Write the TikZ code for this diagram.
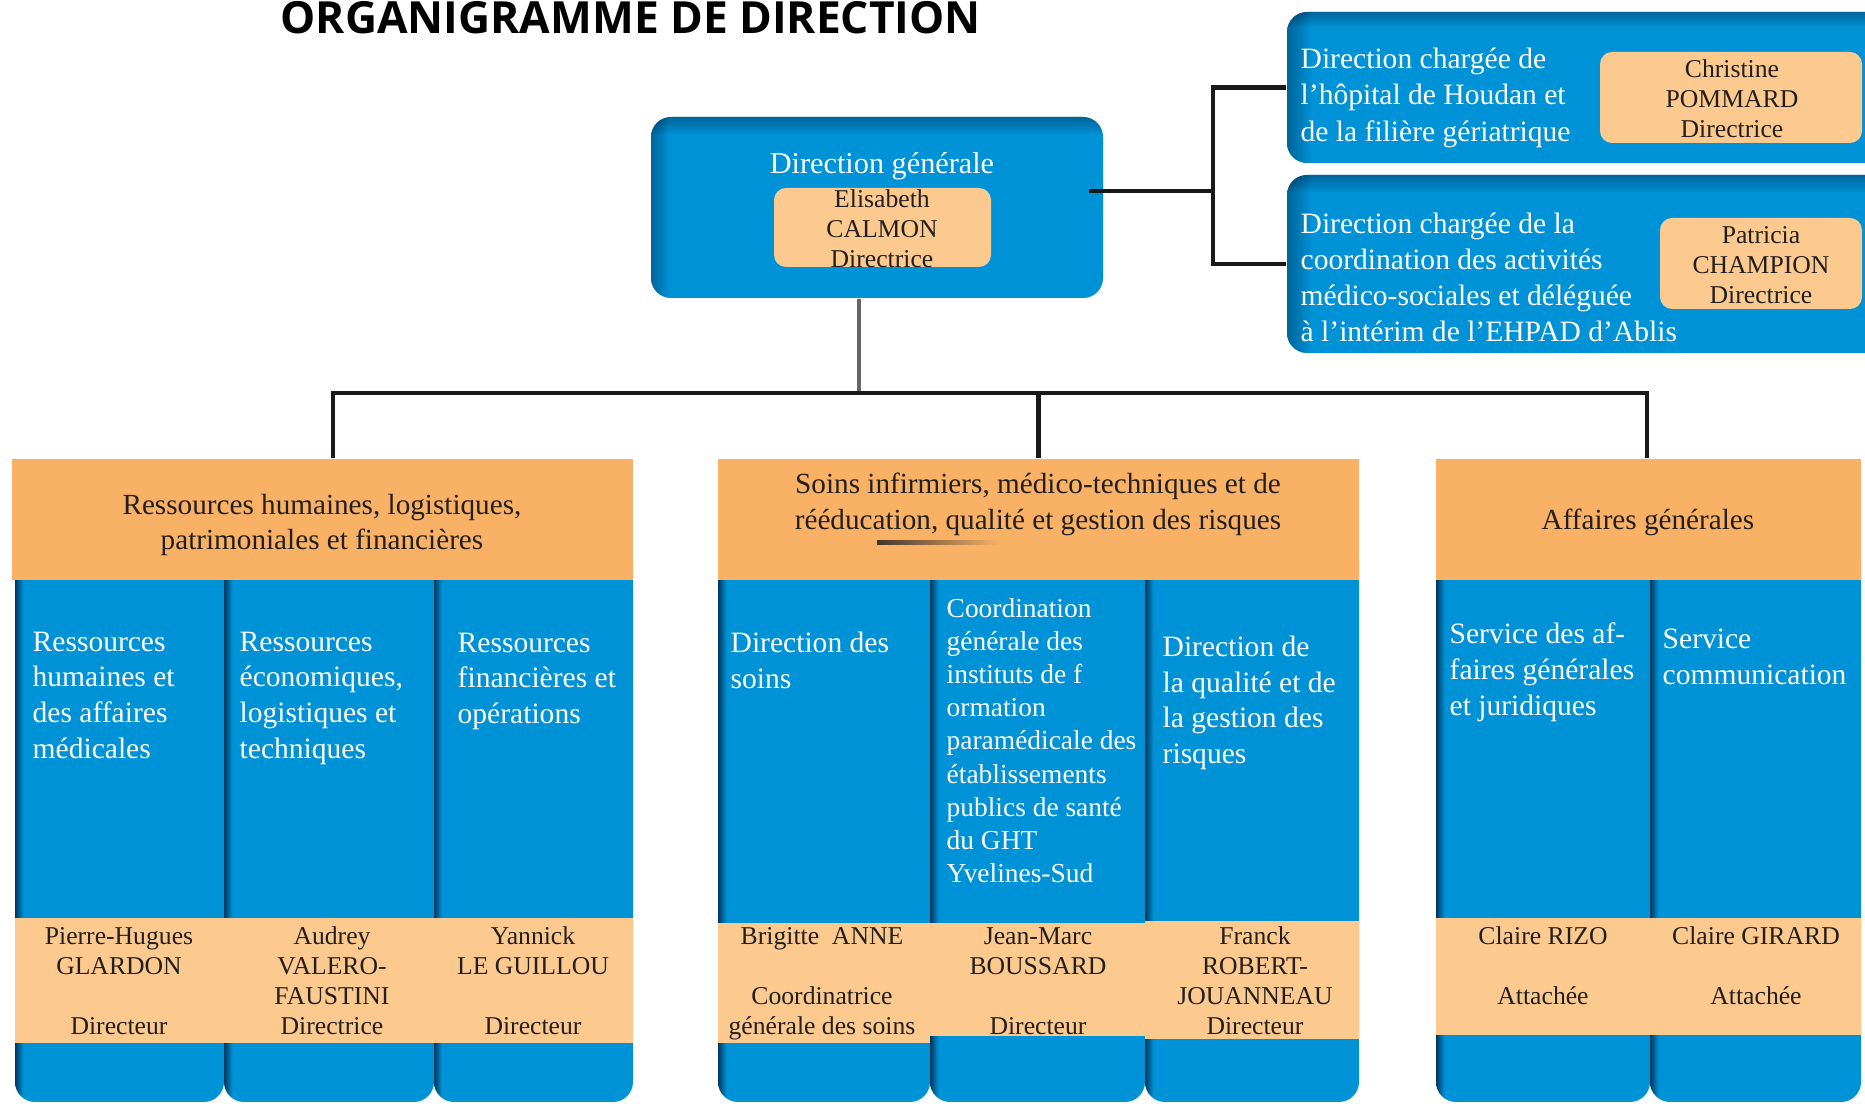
\documentclass[tikz,border=0pt]{standalone}
\usepackage{fontspec}
\setmainfont{Liberation Serif}
\newfontfamily\titlefont{Open Sans}
\usepackage{xcolor}
\usetikzlibrary{fit,positioning}

\definecolor{orgblue}{RGB}{0,146,214}
\definecolor{orgdark}{RGB}{0,55,95}
\definecolor{orghead}{RGB}{249,177,102}
\definecolor{orgname}{RGB}{252,202,143}
\definecolor{orgtext}{RGB}{35,31,32}

\pgfdeclareverticalshading{boxtop}{100bp}{color(0bp)=(orgblue); color(70bp)=(orgblue); color(75bp)=(orgdark); color(100bp)=(orgdark)}
\pgfdeclarehorizontalshading{colleft}{100bp}{color(0bp)=(orgdark); color(25bp)=(orgdark); color(27bp)=(orgblue); color(100bp)=(orgblue)}

\begin{document}
\begin{tikzpicture}[x=0.01cm, y=-0.01cm,
    bluebox/.style = {shading=boxtop, rounded corners=2mm, inner sep=0pt,
        postaction={shade, shading=colleft, opacity=0.5}},
    colbox/.style = {shading=colleft, rounded corners=2mm, inner sep=0pt},
    headbox/.style = {fill=orghead, inner sep=0pt},
    band/.style = {fill=orgname, inner sep=0pt},
    namebox/.style = {fill=orgname, rounded corners=1.2mm, inner sep=0pt},
    bluetext/.style = {text=white, align=left, anchor=north west, inner sep=0pt, font=\fontsize{8.4}{10.2}\selectfont},
    headtext/.style = {text=orgtext, align=center, inner sep=0pt, font=\fontsize{8.3}{10.2}\selectfont},
    nametext/.style = {text=orgtext, align=center, inner sep=0pt, font=\fontsize{7.3}{8.5}\selectfont},
    link/.style = {line width=1.4pt, black!90}]
\clip (0,0) rectangle (1865,1104);

% title
\node[anchor=base west, inner sep=0pt, font=\titlefont\bfseries\fontsize{12.6}{14}\selectfont] (title) at (280,34) {ORGANIGRAMME DE DIRECTION};

% direction generale
\node[bluebox, fit={(651,117) (1103,298)}] (dg) {};
\node[text=white, inner sep=0pt, font=\fontsize{8.6}{10.2}\selectfont] (dgtitle) at (882,166) {Direction générale};
\node[namebox, fit={(774,188) (991,267)}] (dgbox) {};
\node[nametext] (dgname) at (882,229) {Elisabeth\\CALMON\\Directrice};

% directions rattachees
\node[bluebox, fit={(1287,12) (1905,163)}] (hopital) {};
\node[bluetext, font=\fontsize{8.4}{10.4}\selectfont] (hopitaltext) at (1300,47) {Direction chargée de\\l’hôpital de Houdan et\\de la filière gériatrique};
\node[namebox, fit={(1600,52) (1862,143)}] (hopitalbox) {};
\node[nametext] (hopitalname) at (1732,99) {Christine\\POMMARD\\Directrice};

\node[bluebox, fit={(1287,175) (1905,353)}] (medsoc) {};
\node[bluetext, font=\fontsize{8.4}{10.3}\selectfont] (medsoctext) at (1300,212) {Direction chargée de la\\coordination des activités\\médico-sociales et déléguée\\à l’intérim de l’EHPAD d’Ablis};
\node[namebox, fit={(1660,218) (1862,309)}] (medsocbox) {};
\node[nametext] (medsocname) at (1761,265) {Patricia\\CHAMPION\\Directrice};

% colonnes
\foreach \xa/\xb/\name in {15/224/rhA, 224/434/rhB, 434/633/rhC,
    718/930/soinsA, 930/1145/soinsB, 1145/1359/soinsC, 1436/1650/agA, 1650/1861/agB}
  \node[colbox, fit={(\xa,540) (\xb,1102)}] (\name) {};
\foreach \xa/\xb/\ya/\yb in {15/224/918/1043, 224/434/918/1043, 434/633/918/1043,
    718/930/923/1043, 930/1145/923/1036, 1145/1359/921/1039, 1436/1650/918/1035, 1650/1861/918/1035}
  \node[band, fit={(\xa,\ya) (\xb,\yb)}] (band-\xa) {};

% poles
\node[headbox, fit={(12,459) (633,580)}] (rh) {};
\node[headbox, fit={(718,459) (1359,580)}] (soins) {};
\node[headbox, fit={(1436,459) (1861,580)}] (affaires) {};
\node[headtext] (rhtext) at (322,525) {Ressources humaines, logistiques,\\patrimoniales et financières};
\node[headtext] (soinstext) at (1038,504) {Soins infirmiers, médico-techniques et de\\rééducation, qualité et gestion des risques};
\node[headtext] (affairestext) at (1648,522) {Affaires générales};
\shade[left color=orgtext!85!orghead, right color=orghead] (877,541) rectangle (999,545);

% textes des colonnes
\node[bluetext] (rhAtext) at (32,631) {Ressources\\humaines et\\des affaires\\médicales};
\node[bluetext] (rhBtext) at (239,631) {Ressources\\économiques,\\logistiques et\\techniques};
\node[bluetext] (rhCtext) at (457,632) {Ressources\\financières et\\opérations};
\node[bluetext] (soinsAtext) at (730,631) {Direction des\\soins};
\node[bluetext, font=\fontsize{7.8}{9.4}\selectfont] (soinsBtext) at (946,598) {Coordination\\générale des\\instituts de f\\ormation\\paramédicale des\\établissements\\publics de santé\\du GHT\\Yvelines-Sud};
\node[bluetext] (soinsCtext) at (1162,635) {Direction de\\la qualité et de\\la gestion des\\risques};
\node[bluetext] (agAtext) at (1449,622) {Service des af-\\faires générales\\et juridiques};
\node[bluetext] (agBtext) at (1662,628) {Service\\communication};

% noms
\node[nametext] (rhAname) at (119,981) {Pierre-Hugues\\GLARDON\\[8.5pt]Directeur};
\node[nametext] (rhBname) at (332,981) {Audrey\\VALERO-\\FAUSTINI\\Directrice};
\node[nametext] (rhCname) at (533,981) {Yannick\\LE GUILLOU\\[8.5pt]Directeur};
\node[nametext] (soinsAname) at (822,984) {Brigitte~~ANNE\\[8.5pt]Coordinatrice\\générale des soins};
\node[nametext] (soinsBname) at (1038,981) {Jean-Marc\\BOUSSARD\\[8.5pt]Directeur};
\node[nametext] (soinsCname) at (1255,981) {Franck\\ROBERT-\\JOUANNEAU\\Directeur};
\node[nametext] (agAname) at (1543,966) {Claire RIZO\\[8.5pt]Attachée};
\node[nametext] (agBname) at (1756,966) {Claire GIRARD\\[8.5pt]Attachée};

% liaisons
\coordinate (bus) at (859,393);
\coordinate (busL) at (333,393);
\coordinate (busR) at (1647,393);
\coordinate (brk) at (1213,191);
\draw[line width=0.9pt, black!60] (dg.south -| bus) -- (bus);
\draw[link] (rh.north -| busL) -- (busL) -- (busR) -- (affaires.north -| busR);
\draw[link] (soins.north) -- (soins.north |- bus);
\draw[link, shorten <=-1.5mm] (dg.east |- brk) -- (brk);
\draw[link] (hopital.west) -| (brk) |- (medsoc.west);
\end{tikzpicture}
\end{document}
